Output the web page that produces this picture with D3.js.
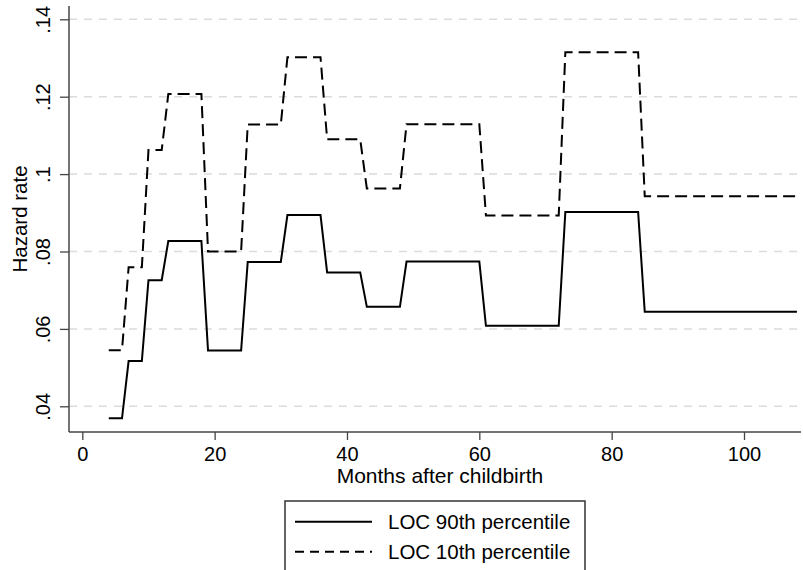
<html>
<head>
  <script src="https://cdn.jsdelivr.net/npm/d3@7"></script>
  <title>Hazard rate</title>
  <style>
  body { margin: 0; background: #fff; }
  svg { display: block; background: #fff; }
  text { font-family: "Liberation Sans", Arial, sans-serif; fill: #000; }
  </style>
</head>
<body>
  <div id="chart"></div>
  <script>

  // step segments: month where each level starts / ends
  var segStart = [4, 7, 10, 13, 19, 25, 31, 37, 43, 49, 61, 73, 85];
  var segEnd   = [6, 9, 12, 18, 24, 30, 36, 42, 48, 60, 72, 84, 108];
  var loc90 = [0.0369, 0.0517, 0.0726, 0.0827, 0.0544, 0.0773, 0.0894, 0.0746, 0.0657, 0.0774, 0.0608, 0.0902, 0.0644];
  var loc10 = [0.0545, 0.0759, 0.1062, 0.1207, 0.0800, 0.1128, 0.1302, 0.1090, 0.0963, 0.1129, 0.0893, 0.1315, 0.0943];
  var seriesNames = ["LOC 90th percentile", "LOC 10th percentile"];
  var xTicks = [0, 20, 40, 60, 80, 100];
  var yTicks = [0.04, 0.06, 0.08, 0.10, 0.12, 0.14];
  var yTickLabels = [".04", ".06", ".08", ".1", ".12", ".14"];

  var width = 803, height = 570;
  var plot = { left: 69, right: 801, top: 6, bottom: 432 };

  var svg = d3.select("#chart").append("svg").attr("width", width).attr("height", height);

  var x = d3.scaleLinear().domain([0, 100]).range([82.3, 744]);
  var y = d3.scaleLinear().domain([0.04, 0.14]).range([406.3, 19.3]);

  // gridlines
  svg.selectAll(".grid").data(yTicks).enter()
    .append("line")
    .attr("class", "grid")
    .attr("x1", plot.left).attr("x2", plot.right)
    .attr("y1", function(d) { return y(d); })
    .attr("y2", function(d) { return y(d); })
    .attr("stroke", "#dcdcdc")
    .attr("stroke-width", 1.5)
    .attr("stroke-dasharray", "8,7");

  // axes
  var yAxis = d3.axisLeft(y).tickValues(yTicks).tickSize(9).tickFormat(function(d, i) { return yTickLabels[i]; });
  var gy = svg.append("g").attr("transform", "translate(" + plot.left + ",0)").call(yAxis);
  gy.select(".domain").remove();
  gy.selectAll(".tick line").attr("stroke", "#444").attr("stroke-width", 1.3);
  gy.selectAll(".tick text")
    .attr("x", 0).attr("dy", 0)
    .attr("transform", "translate(-19,0) rotate(-90)")
    .attr("text-anchor", "middle")
    .style("font-size", "20px")
    .style("font-family", "Liberation Sans, Arial, sans-serif");

  var xAxis = d3.axisBottom(x).tickValues(xTicks).tickSize(8);
  var gx = svg.append("g").attr("transform", "translate(0," + plot.bottom + ")").call(xAxis);
  gx.select(".domain").remove();
  gx.selectAll(".tick line").attr("stroke", "#444").attr("stroke-width", 1.3);
  gx.selectAll(".tick text")
    .attr("y", 29).attr("dy", 0)
    .style("font-size", "20px")
    .style("font-family", "Liberation Sans, Arial, sans-serif");

  svg.append("line").attr("x1", plot.left).attr("x2", plot.left)
    .attr("y1", plot.top).attr("y2", plot.bottom)
    .attr("stroke", "#444").attr("stroke-width", 1.5);
  svg.append("line").attr("x1", plot.left).attr("x2", plot.right)
    .attr("y1", plot.bottom).attr("y2", plot.bottom)
    .attr("stroke", "#444").attr("stroke-width", 1.5);

  svg.append("text")
    .attr("transform", "translate(27," + ((plot.top + plot.bottom) / 2) + ") rotate(-90)")
    .attr("text-anchor", "middle")
    .style("font-size", "20.5px")
    .text("Hazard rate");

  svg.append("text")
    .attr("x", 440).attr("y", 482.5)
    .attr("text-anchor", "middle")
    .style("font-size", "21px")
    .text("Months after childbirth");

  // series lines: each level drawn from its start month to its end month
  function stepPoints(vals) {
    var pts = [];
    vals.forEach(function(v, i) {
      pts.push([segStart[i], v]);
      pts.push([segEnd[i], v]);
    });
    return pts;
  }
  var line = d3.line().x(function(d) { return x(d[0]); }).y(function(d) { return y(d[1]); });

  svg.append("path").datum(stepPoints(loc10))
    .attr("d", line).attr("fill", "none")
    .attr("stroke", "#000").attr("stroke-width", 2)
    .attr("stroke-dasharray", "12,6");
  svg.append("path").datum(stepPoints(loc90))
    .attr("d", line).attr("fill", "none")
    .attr("stroke", "#000").attr("stroke-width", 2);

  // legend
  var lg = svg.append("g");
  lg.append("rect").attr("x", 285).attr("y", 501).attr("width", 300).attr("height", 90)
    .attr("fill", "#fff").attr("stroke", "#333").attr("stroke-width", 1.5);
  var dashes = [null, "9,6"];
  seriesNames.forEach(function(name, i) {
    var ly = 521.7 + i * 30;
    lg.append("line").attr("x1", 295).attr("x2", 372).attr("y1", ly).attr("y2", ly)
      .attr("stroke", "#000").attr("stroke-width", 2)
      .attr("stroke-dasharray", dashes[i]);
    lg.append("text").attr("x", 388).attr("y", ly + 7)
      .style("font-size", "20.5px")
      .text(name);
  });
  </script>
</body>
</html>
